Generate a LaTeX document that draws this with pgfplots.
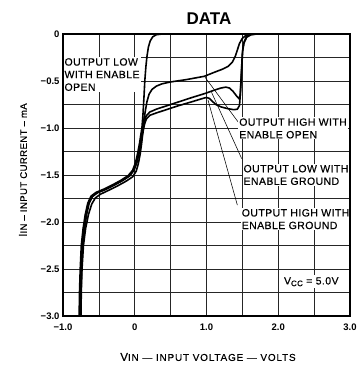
\documentclass[border=0pt]{standalone}
\usepackage{pgfplots}
\pgfplotsset{compat=1.18}
\usepackage{fontspec}
\setmainfont{Liberation Sans}
\newfontfamily\lab[LetterSpace=4,FakeBold=0.4]{Liberation Sans}
\newfontfamily\labwide[LetterSpace=8,FakeBold=0.4]{Liberation Sans}
\newcommand{\annot}{\lab\fontsize{10.5}{12.6}\selectfont}
\newcommand{\axlab}{\lab\fontsize{9.6}{11}\selectfont}
\newcommand{\axlabx}{\labwide\fontsize{10}{11}\selectfont}
\begin{document}
\begin{tikzpicture}
\useasboundingbox (-63pt,-51pt) rectangle (295pt,316pt);
\begin{axis}[
  at={(0,0)}, anchor=south west,
  scale only axis, width=287pt, height=282pt,
  xmin=-1, xmax=3, ymin=-3, ymax=0,
  xtick={-1,0,1,2,3}, xticklabels={−1.0,0,1.0,2.0,3.0},
  minor xtick={-0.5,0.5,1.5,2.5},
  ytick={-3,-2.5,-2,-1.5,-1,-0.5,0},
  yticklabels={−3.0,−2.5,−2.0,−1.5,−1.0,−0.5,0},
  minor ytick={-2.75,-2.25,-1.75,-1.25,-0.75,-0.25},
  grid=both,
  major grid style={black!85, line width=0.5pt},
  minor grid style={black!85, line width=0.45pt},
  tick style={draw=none},
  axis line style={line width=1.2pt},
  clip=false,
  tick label style={font=\fontsize{9.5}{11}\selectfont\bfseries},
  xticklabel style={yshift=-4pt},
  yticklabel style={xshift=0pt},
]
% Output low with enable open
\addplot[black, line width=1.6pt, line join=round] coordinates {
(-0.775,-3.0) (-0.77,-2.75) (-0.76,-2.5) (-0.745,-2.25) (-0.72,-2.07) (-0.69,-1.92) (-0.655,-1.8) (-0.61,-1.725) (-0.54,-1.685) (-0.43,-1.65) (-0.31,-1.605) (-0.19,-1.555) (-0.09,-1.505) (-0.03,-1.45) (0.01,-1.37) (0.04,-1.27) (0.065,-1.17) (0.085,-1.07) (0.1,-1.0) (0.115,-0.85) (0.13,-0.65) (0.14,-0.5) (0.155,-0.35) (0.17,-0.24) (0.19,-0.14) (0.215,-0.075) (0.25,-0.03) (0.3,-0.008) (0.38,0) (3,0)
};
% Output high with enable open
\addplot[black, line width=1.6pt, line join=round] coordinates {
(-0.765,-3.0) (-0.76,-2.75) (-0.75,-2.5) (-0.735,-2.25) (-0.71,-2.07) (-0.68,-1.92) (-0.645,-1.8) (-0.6,-1.73) (-0.53,-1.69) (-0.42,-1.655) (-0.3,-1.61) (-0.18,-1.56) (-0.08,-1.51) (-0.02,-1.45) (0.02,-1.37) (0.05,-1.27) (0.075,-1.17) (0.095,-1.07) (0.11,-1.0) (0.125,-0.92) (0.145,-0.83) (0.17,-0.72) (0.2,-0.64) (0.24,-0.59) (0.3,-0.555) (0.38,-0.53) (0.5,-0.51) (0.72,-0.485) (0.97,-0.45) (1.1,-0.41) (1.22,-0.375) (1.3,-0.345) (1.36,-0.3) (1.4,-0.24) (1.43,-0.17) (1.46,-0.1) (1.5,-0.045) (1.55,-0.015) (1.62,-0.003) (1.7,0) (3,0)
};
% Output low with enable ground
\addplot[black, line width=1.6pt, line join=round] coordinates {
(-0.755,-3.0) (-0.75,-2.75) (-0.74,-2.5) (-0.725,-2.25) (-0.7,-2.07) (-0.67,-1.92) (-0.635,-1.8) (-0.59,-1.73) (-0.52,-1.69) (-0.41,-1.655) (-0.29,-1.61) (-0.17,-1.56) (-0.07,-1.51) (-0.01,-1.45) (0.03,-1.37) (0.06,-1.27) (0.085,-1.17) (0.105,-1.07) (0.12,-1.0) (0.135,-0.93) (0.16,-0.87) (0.21,-0.83) (0.3,-0.8) (0.4,-0.775) (0.6,-0.725) (0.8,-0.675) (0.97,-0.635) (1.1,-0.6) (1.2,-0.575) (1.27,-0.565) (1.32,-0.575) (1.37,-0.61) (1.42,-0.66) (1.455,-0.69) (1.47,-0.65) (1.48,-0.5) (1.49,-0.35) (1.5,-0.2) (1.52,-0.1) (1.56,-0.035) (1.62,-0.008) (1.7,0) (3,0)
};
% Output high with enable ground
\addplot[black, line width=1.6pt, line join=round] coordinates {
(-0.75,-3.0) (-0.745,-2.75) (-0.735,-2.5) (-0.715,-2.25) (-0.685,-2.07) (-0.645,-1.92) (-0.6,-1.81) (-0.55,-1.745) (-0.48,-1.705) (-0.37,-1.665) (-0.25,-1.62) (-0.13,-1.57) (-0.03,-1.52) (0.02,-1.46) (0.05,-1.38) (0.075,-1.28) (0.095,-1.17) (0.11,-1.07) (0.125,-1.0) (0.14,-0.95) (0.165,-0.9) (0.21,-0.865) (0.3,-0.84) (0.4,-0.815) (0.6,-0.765) (0.8,-0.72) (0.95,-0.685) (1.0,-0.675) (1.04,-0.685) (1.08,-0.715) (1.13,-0.75) (1.2,-0.775) (1.3,-0.795) (1.38,-0.805) (1.43,-0.8) (1.46,-0.76) (1.475,-0.6) (1.485,-0.45) (1.495,-0.3) (1.505,-0.17) (1.525,-0.08) (1.56,-0.025) (1.62,-0.005) (1.7,0) (3,0)
};
% leaders
\draw[line width=0.55pt] (axis cs:0.98,-0.46) -- (axis cs:1.443,-0.938);
\draw[line width=0.55pt] (axis cs:1.07,-0.62) -- (axis cs:1.49,-1.325);
\draw[line width=0.55pt] (axis cs:1.02,-0.70) -- (axis cs:1.43,-1.82);
% labels
\node[anchor=north west, fill=white, inner sep=1pt, align=left, font=\annot] at (axis cs:-0.995,-0.245) {OUTPUT LOW\\WITH ENABLE\\OPEN};
\node[anchor=north west, fill=white, inner sep=1pt, align=left, font=\annot] at (axis cs:1.44,-0.885) {OUTPUT HIGH WITH\\ENABLE OPEN};
\node[anchor=north west, fill=white, inner sep=1pt, align=left, font=\annot] at (axis cs:1.50,-1.38) {OUTPUT LOW WITH\\ENABLE GROUND};
\node[anchor=north west, fill=white, inner sep=1pt, align=left, font=\annot] at (axis cs:1.475,-1.85) {OUTPUT HIGH WITH\\ENABLE GROUND};
\node[anchor=west, fill=white, inner sep=2pt, font=\annot] at (axis cs:2.05,-2.635) {V{\fontsize{8}{9}\selectfont\raisebox{-0.4ex}{CC}} = 5.0V};
\end{axis}
\draw[line width=1.2pt] (0,0) rectangle (287pt,282pt);
\node[font=\fontsize{17}{20}\selectfont\bfseries] at (146pt,297pt) {DATA};
\node[font=\axlabx] at (145pt,-41pt) {{\fontsize{11.5}{12}\selectfont V}IN — INPUT VOLTAGE — VOLTS};
\node[font=\axlab, rotate=90] at (-40pt,146pt) {{\fontsize{11.5}{12}\selectfont I}IN – INPUT CURRENT – mA};
\end{tikzpicture}
\end{document}
